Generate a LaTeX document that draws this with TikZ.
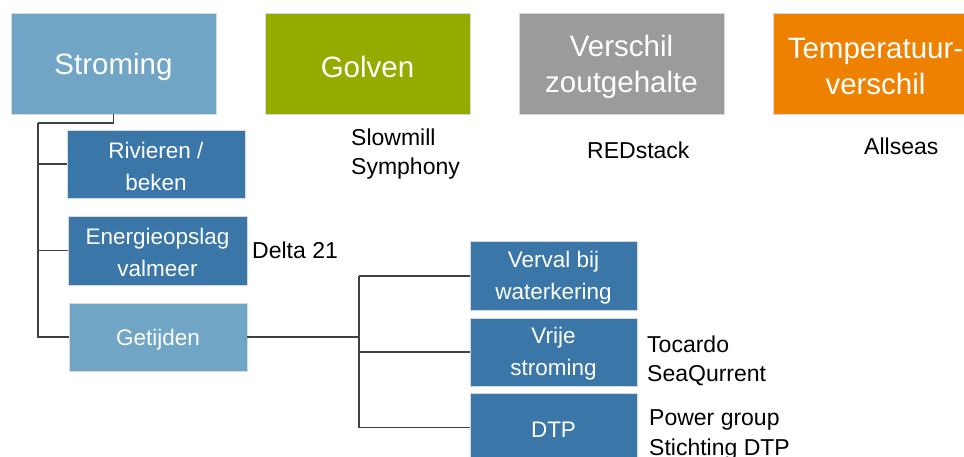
\documentclass[tikz,border=0pt]{standalone}
\usepackage{fontspec}
\setmainfont{Liberation Sans}
\definecolor{lightblue}{HTML}{71A5C6}
\definecolor{darkblue}{HTML}{3A77A8}
\definecolor{golfgreen}{HTML}{95AB00}
\definecolor{saltgray}{HTML}{9B9B9B}
\definecolor{temporange}{HTML}{EE8200}
\definecolor{linegray}{HTML}{404040}
\begin{document}
\begin{tikzpicture}[x=1pt,y=-1pt,
  boxbase/.style={draw=white!85!black, line width=0.6pt, inner sep=0pt},
  bigbox/.style={boxbase, minimum width=205pt, minimum height=101pt},
  smallbox/.style={boxbase, minimum width=178pt, minimum height=68pt},
  tidebox/.style={smallbox, minimum width=167pt, minimum height=69pt},
  bigtxt/.style={text=white, align=center, inner sep=0pt, yshift=-3pt, font=\fontsize{29.5}{36}\selectfont},
  smalltxt/.style={text=white, align=center, inner sep=0pt, yshift=-2pt, font=\fontsize{22.5}{32}\selectfont},
  lbl/.style={anchor=west, inner sep=0pt, align=left, text=black, font=\fontsize{23}{29.5}\selectfont},
  conn/.style={draw=linegray, line width=1.3pt}
]
\useasboundingbox (0,0) rectangle (964,456);
\path[fill=white] (0,0) rectangle (964,456);

\node[bigbox, fill=lightblue, label={[bigtxt]center:Stroming}] (stroming) at (113.5,63.5) {};
\node[bigbox, fill=golfgreen, label={[bigtxt]center:Golven}] (golven) at (367.5,63.5) {};
\node[bigbox, fill=saltgray, label={[bigtxt]center:Verschil\\zoutgehalte}] (zout) at (621.5,63.5) {};
\node[bigbox, fill=temporange, label={[bigtxt]center:Temperatuur-\\verschil}] (temp) at (875.5,63.5) {};

\node[smallbox, fill=darkblue, label={[smalltxt]center:Rivieren /\\beken}] (rivieren) at (156,164) {};
\node[smallbox, fill=darkblue, minimum width=179pt, minimum height=69pt, label={[smalltxt]center:Energieopslag\\valmeer}] (energie) at (157.5,250.5) {};
\node[smallbox, fill=lightblue, label={[smalltxt, yshift=-1pt]center:Getijden}] (getijden) at (158,337) {};

\node[tidebox, fill=darkblue, label={[smalltxt]center:Verval bij\\waterkering}] (verval) at (553.5,276) {};
\node[tidebox, fill=darkblue, minimum height=68pt, label={[smalltxt]center:Vrije\\stroming}] (vrije) at (553.5,352) {};
\node[tidebox, fill=darkblue, label={[smalltxt]center:DTP}] (dtp) at (553.5,427.5) {};

\coordinate (trunk) at (38,123);
\coordinate (hub) at (359,337);

\draw[conn, line width=1.8pt] (stroming.south) |- (trunk);
\draw[conn] (trunk) -- (trunk |- getijden.west) -- (getijden.west);
\draw[conn] (trunk |- rivieren.west) -- (rivieren.west);
\draw[conn] (trunk |- energie.west) -- (energie.west);

\draw[conn] (getijden.east) -- (hub);
\draw[conn] (hub |- verval.west) -- (hub |- dtp.west);
\draw[conn] (hub |- verval.west) -- (verval.west);
\draw[conn] (hub |- vrije.west) -- (vrije.west);
\draw[conn] (hub |- dtp.west) -- (dtp.west);

\node[lbl] (slowmill) at (351,154) {Slowmill\\Symphony};
\node[lbl] (redstack) at (587,150) {REDstack};
\node[lbl] (allseas) at (864,146) {Allseas};
\node[lbl] (delta) at (252,250) {Delta 21};
\node[lbl] (tocardo) at (647,361) {Tocardo\\SeaQurrent};
\node[lbl] (power) at (649,435) {Power group\\Stichting DTP};
\end{tikzpicture}
\end{document}
